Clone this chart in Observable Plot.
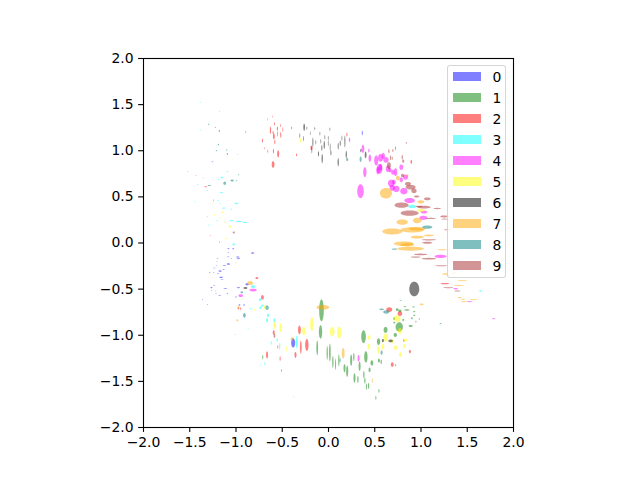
<!DOCTYPE html>
<html><head><meta charset="utf-8">
<script src="https://cdn.jsdelivr.net/npm/d3@7"></script>
<script src="https://cdn.jsdelivr.net/npm/@observablehq/plot@0.6"></script>
<style>
html,body{margin:0;padding:0;background:#fff}
#wrap{position:relative;width:640px;height:480px;font-family:"DejaVu Sans",sans-serif}
#legend{position:absolute;left:446.5px;top:65px;width:59.5px;height:213px;box-sizing:border-box;background:rgba(255,255,255,.8);border:1px solid rgba(204,204,204,.8);border-radius:3px}
#legend .sw{position:absolute;left:5.5px;width:27.8px;height:9.8px}
#legend .lb{position:absolute;left:45px;font-size:13.9px;line-height:16px;color:#000}
svg text{font-family:"DejaVu Sans",sans-serif}
</style></head><body><div id="wrap"></div>
<script>
const labels = ["0","1","2","3","4","5","6","7","8","9"];
const colors = ["blue","green","red","cyan","magenta","yellow","black","orange","teal","brown"];
const tickValues = [-2,-1.5,-1,-0.5,0,0.5,1,1.5,2];
// each row: centre x, centre y, width, height (data units)
const class0 = [[-.82,-.109,.036,.015],[-.981,-.152,.036,.012],[-.974,-.17,.036,.01],[-1.03,-.062,.022,.01],[-1.082,-.062,.022,.01],[-1.082,-.105,.014,.007],[-1.086,-.149,.014,.01],[-1.05,-.17,.014,.007],[-1.2,-.17,.014,.007],[-1.205,-.203,.011,.007],[-1.125,-.246,.036,.008],[-1.082,-.228,.036,.016],[-1.212,-.246,.011,.007],[-1.234,-.271,.022,.007],[-1.133,-.289,.022,.007],[-1.172,-.304,.036,.015],[-1.194,-.333,.022,.007],[-1.284,-.322,.018,.007],[-1.241,-.322,.014,.007],[-1.161,-.372,.036,.015],[-1.151,-.398,.03,.007],[-1.237,-.463,.022,.007],[-1.266,-.484,.022,.012],[-1.115,-.495,.043,.007],[-1.219,-.52,.011,.007],[-1.262,-.513,.011,.007],[-1.093,-.549,.014,.01],[-1.216,-.546,.011,.007],[-1.176,-.567,.03,.007],[-1.36,-.614,.011,.007],[-1.306,-.665,.011,.007],[-.88,-.448,.036,.022],[-.974,-.484,.036,.011],[-1.0,-.585,.014,.014],[-.382,-1.083,.043,.1],[-.963,-.672,.022,.014],[-.913,-.672,.018,.014],[.365,1.193,.011,.05],[-1.255,.88,.018,.008]];
const class1 = [[.848,-.726,.058,.015],[.826,-.69,.03,.011],[.92,-.693,.03,.011],[.743,-.722,.03,.03],[.772,-.737,.036,.03],[.711,-.82,.022,.03],[.711,-.863,.022,.018],[.808,-.834,.022,.022],[.927,-.744,.022,.014],[.927,-.784,.022,.014],[.902,-.816,.018,.022],[.981,-.823,.011,.018],[.945,-.852,.011,.022],[.888,-.899,.043,.022],[1.212,-.874,.022,.011],[.765,-.91,.079,.101],[.617,-.942,.043,.065],[.722,-.997,.036,.043],[.379,-1.015,.05,.137],[.541,-1.069,.036,.072],[.404,-1.235,.036,.123],[.274,-1.235,.014,.087],[.245,-1.271,.022,.123],[.469,-1.3,.03,.058],[.545,-1.274,.022,.043],[.57,-1.289,.014,.05],[.336,-1.336,.022,.101],[.173,-1.357,.022,.087],[.202,-1.39,.022,.123],[.444,-1.375,.022,.05],[.382,-1.426,.014,.079],[.281,-1.462,.022,.101],[.318,-1.48,.014,.079],[.393,-1.491,.014,.065],[.433,-1.549,.014,.065],[.411,-1.556,.011,.072],[.545,-1.603,.011,.043],[.512,-1.678,.011,.043],[-.076,-.73,.05,.238],[-.086,-.964,.036,.144],[-.122,-1.137,.018,.159],[-.711,-1.238,.011,.05],[-.014,-1.191,.014,.152],[.015,-1.188,.018,.195],[.047,-1.289,.014,.13],[.076,-1.314,.011,.123],[.112,-1.271,.014,.13]];
const class2 = [[.895,.88,.018,.043],[.657,-.722,.065,.05],[.772,-.766,.05,.05],[.815,-1.058,.014,.03],[.88,-1.177,.022,.036],[.689,-1.318,.03,.05],[1.259,-.441,.094,.015],[-.714,-.589,.03,.05],[-.949,-.711,.011,.03],[-.314,-.942,.03,.094],[-.592,-.971,.022,.05],[-.299,-1.13,.018,.144],[-.234,-1.105,.036,.13],[-.548,-1.126,.011,.036],[-.357,-1.213,.022,.065],[-.664,-1.213,.022,.079],[-.523,-1.253,.011,.05],[-.775,-.38,.03,.022],[-.599,.851,.03,.072],[-.544,.966,.022,.079],[-.595,.995,.012,.05],[-.656,.995,.008,.036],[-.714,1.11,.012,.043],[-.58,1.096,.012,.05],[-.516,1.172,.012,.065],[-.552,1.183,.009,.058],[-.591,1.157,.02,.065],[-.627,1.222,.014,.079],[-.584,1.291,.01,.036],[-.519,1.273,.008,.036],[-.494,1.229,.008,.05],[-.552,1.24,.014,.043],[-.656,1.341,.005,.03],[-.602,1.37,.005,.03],[-.689,1.027,.008,.022],[-.894,1.204,.008,.022],[-.346,.955,.012,.03],[-.184,1.031,.022,.05],[.199,1.175,.012,.043],[-.599,1.197,.012,.036],[-1.327,.609,.03,.011],[-1.18,1.428,.008,.008],[-1.432,.731,.01,.008],[-1.277,.082,.01,.008],[-1.244,.464,.01,.014],[-.981,.962,.008,.008],[-1.176,.01,.008,.018],[-.974,-.711,.018,.018]];
const class3 = [[.906,.396,.09,.036],[1.645,-.52,.03,.018],[-.739,-.614,.03,.03],[-.714,-.679,.03,.022],[-.736,-.701,.022,.03],[-.844,-.711,.014,.014],[-.653,-.784,.022,.036],[-.664,-.838,.022,.05],[-.584,-.838,.022,.043],[-.343,-1.072,.022,.137],[-.62,-1.083,.011,.043],[-.555,-1.051,.014,.036],[-.527,-1.119,.011,.079],[-.689,-1.307,.011,.03],[-.732,-1.332,.008,.014],[-.375,-1.668,.008,.014],[-1.006,-.993,.011,.011],[-.869,-.928,.008,.014],[-1.024,-.015,.03,.022],[-.815,-.473,.05,.03],[-1.093,.775,.014,.014],[-1.151,.71,.03,.018],[-1.187,.688,.014,.011],[-1.313,.569,.014,.011],[-1.158,.547,.03,.014],[-1.194,.461,.014,.014],[-1.172,.428,.011,.011],[-.995,.428,.043,.018],[-1.133,.378,.03,.014],[-1.053,.367,.022,.011],[-1.31,.284,.014,.011],[-1.205,.241,.014,.011],[-1.046,.241,.05,.011],[-.97,.234,.072,.014],[-.905,.223,.05,.014],[-1.295,.194,.014,.011],[-1.353,.706,.014,.011],[-1.414,.634,.014,.011],[-1.443,.446,.011,.011],[-1.385,1.525,.008,.014],[-1.382,1.226,.008,.014]];
const class4 = [[.346,.562,.07,.152],[.393,.768,.036,.108],[.447,.919,.028,.079],[.516,.894,.045,.108],[.563,.923,.055,.085],[.621,.901,.058,.062],[.552,.804,.06,.108],[.642,.804,.045,.072],[.696,.768,.038,.055],[.725,.768,.036,.087],[.787,.822,.042,.06],[.678,.648,.072,.078],[.689,.598,.058,.062],[.732,.587,.072,.07],[.815,.562,.08,.07],[.787,.685,.036,.055],[.833,.714,.056,.055],[.877,.461,.115,.055],[1.025,.273,.085,.045],[1.212,-.145,.13,.036],[1.032,.335,.072,.03],[.372,1.02,.03,.087],[.437,1.002,.015,.043],[.227,1.118,.015,.05],[1.375,-.495,.05,.015],[1.526,-.636,.058,.011],[1.786,-.82,.036,.011],[.325,-1.249,.022,.072],[-.815,-.51,.079,.03],[-.949,-.571,.05,.03],[.592,.945,.036,.065],[.534,.785,.036,.08],[.563,.82,.036,.072],[.707,.66,.04,.05],[.666,.79,.03,.05]];
const class5 = [[1.0,.353,.087,.03],[.743,-.82,.072,.072],[.772,-.953,.043,.065],[.44,-1.025,.03,.05],[.617,-1.025,.05,.087],[.689,-1.065,.036,.043],[.833,-1.054,.036,.036],[.823,-1.119,.03,.043],[.437,-1.123,.03,.065],[.588,-1.123,.03,.065],[.725,-1.134,.036,.05],[.541,-1.159,.03,.079],[.779,-1.209,.03,.05],[-.923,-.607,.014,.014],[-.689,-.693,.022,.043],[-.797,-.726,.014,.022],[-.581,-.892,.03,.079],[-.516,-.917,.03,.094],[-.267,-.953,.036,.094],[-.18,-.881,.036,.152],[.04,-.96,.05,.101],[.116,-.971,.043,.13],[-.451,-1.148,.011,.065],[-1.003,-.217,.014,.018],[-.303,1.11,.014,.05],[-1.143,.331,.03,.018],[-1.23,.306,.018,.014],[-1.172,.273,.022,.011],[-1.118,.226,.022,.011],[-1.064,.179,.03,.022],[-1.104,.05,.022,.014],[-1.248,.436,.014,.014],[-1.035,.901,.011,.011]];
const class6 = [[.927,-.499,.108,.159],[.588,-1.058,.022,.036],[.671,-1.061,.05,.03],[-.509,-1.383,.008,.022],[-.898,-.488,.043,.022],[-.397,1.247,.008,.03],[-.263,1.255,.018,.079],[-.234,1.244,.008,.036],[-.148,1.24,.008,.036],[.015,1.233,.008,.036],[-.31,1.164,.008,.05],[-.27,1.132,.008,.058],[-.093,1.186,.008,.043],[-.198,1.19,.006,.043],[-.169,1.092,.011,.101],[-.137,1.092,.008,.05],[-.083,1.103,.008,.05],[-.039,1.146,.008,.05],[-.003,1.136,.008,.05],[-.046,1.063,.014,.087],[-.003,1.081,.008,.058],[.018,1.038,.008,.087],[.026,.977,.011,.058],[-.072,1.031,.011,.065],[-.18,1.009,.008,.079],[-.108,.966,.012,.058],[-.068,.915,.014,.101],[.105,1.049,.011,.072],[.127,1.081,.011,.058],[.145,1.136,.008,.058],[.177,1.1,.011,.13],[.105,.876,.014,.087],[.192,.959,.014,.079],[.35,1.002,.014,.036],[.401,.955,.02,.072]];
const class7 = [[.621,.54,.13,.115],[.75,.703,.043,.05],[.852,.731,.022,.03],[1.0,.446,.072,.036],[.689,.125,.216,.065],[.797,.226,.123,.058],[.96,.244,.094,.058],[.906,.143,.253,.058],[.96,.154,.18,.036],[.815,-.008,.216,.05],[.888,-.062,.289,.043],[.852,-.019,.144,.036],[.96,.064,.144,.03],[1.23,-.073,.108,.011],[1.086,.082,.108,.018],[1.266,-.336,.079,.015],[1.357,-.325,.072,.011],[1.447,-.408,.101,.011],[1.411,-.462,.108,.011],[1.418,-.592,.043,.014],[1.454,-.61,.043,.011],[1.57,-.614,.087,.011],[1.465,-.636,.065,.011],[1.007,-.665,.043,.018],[.473,-1.491,.011,.05],[.159,-1.195,.03,.115],[-.061,-.697,.137,.05],[-.393,-1.04,.03,.036],[-.847,-.434,.065,.043],[-.974,-.697,.03,.022],[-.985,-.838,.022,.022]];
const class8 = [[.202,.905,.022,.036],[1.068,.172,.108,.036],[.714,-.066,.058,.015],[.779,-.625,.022,.008],[.574,-.719,.05,.018],[.624,-.748,.065,.036],[.574,-1.188,.022,.05],[.725,-1.325,.014,.022],[-.938,-.535,.03,.022],[-.664,-.701,.036,.05],[-.909,-.784,.03,.05],[.126,-1.271,.011,.043],[-1.18,1.215,.014,.022],[-1.19,1.067,.014,.018],[-1.1,1.009,.014,.014],[-1.122,.648,.03,.036],[-1.042,.677,.036,.022],[-.995,.674,.014,.011],[-.97,.739,.014,.011],[-1.288,.623,.036,.011],[-1.295,1.287,.014,.014],[-1.223,1.255,.014,.011],[-1.212,1.002,.014,.014],[-1.093,.966,.014,.022],[.347,.908,.022,.058]];
const class9 = [[.953,.504,.058,.022],[1.068,.479,.072,.03],[.877,.324,.195,.058],[.79,.41,.152,.058],[.859,.641,.065,.043],[.888,.605,.108,.05],[.924,.565,.058,.05],[.801,.732,.036,.036],[.653,.84,.043,.072],[.653,.995,.014,.043],[.696,1.002,.014,.03],[.725,1.027,.011,.043],[.797,.93,.014,.05],[.808,.887,.022,.036],[.671,.923,.014,.05],[.689,.919,.011,.036],[.841,1.085,.011,.022],[.978,.396,.072,.018],[1.032,.389,.144,.03],[1.176,.374,.079,.014],[1.104,.266,.108,.014],[1.248,.288,.079,.022],[1.256,.259,.072,.011],[1.284,.143,.072,.011],[1.086,.035,.159,.014],[1.068,.003,.108,.022],[.996,-.124,.144,.018],[1.086,-.17,.159,.018],[.942,-.152,.108,.014],[1.219,-.246,.137,.011],[1.295,-.484,.108,.011],[1.393,-.52,.065,.011],[-.584,-1.007,.018,.043],[-1.522,.775,.011,.008],[-1.024,.114,.022,.022]];
const classes = [class0,class1,class2,class3,class4,class5,class6,class7,class8,class9];

const outline = d3.range(0,40);
function points(rows){
  return rows.flatMap(([x,y,w,h],id)=>outline.map(k=>{
    const a=k/40*2*Math.PI;
    return {id,px:x+w/2*Math.cos(a),py:y+h/2*Math.sin(a)};
  }));
}
const fmt = d3.format(".1f");
const chart = Plot.plot({
  width:640,height:480,
  marginLeft:143,marginRight:127,marginTop:58,marginBottom:53,
  style:{background:"transparent",fontSize:"13.9px",fontFamily:"DejaVu Sans",color:"#000"},
  x:{domain:[-2,2]},y:{domain:[-2,2]},
  marks:[
    ...classes.map((rows,i)=>Plot.line(points(rows),{x:"px",y:"py",z:"id",curve:"linear-closed",fill:colors[i],fillOpacity:.5,stroke:"none"})),
    Plot.frame({stroke:"#000",strokeWidth:1.1}),
    Plot.axisX({ticks:tickValues,tickFormat:fmt,tickSize:4.9,tickPadding:5,label:null,strokeWidth:1.1,stroke:"#000",fill:"#000"}),
    Plot.axisY({ticks:tickValues,tickFormat:fmt,tickSize:4.9,tickPadding:5,label:null,strokeWidth:1.1,stroke:"#000",fill:"#000"})
  ]
});
const wrap=document.getElementById("wrap");
wrap.appendChild(chart);
const lg=document.createElement("div");lg.id="legend";
labels.forEach((t,i)=>{
  const s=document.createElement("div");s.className="sw";s.style.top=(5.5+21*i)+"px";s.style.background=colors[i];s.style.opacity=.5;
  const l=document.createElement("div");l.className="lb";l.style.top=(2.5+21*i)+"px";l.textContent=t;
  lg.append(s,l);
});
wrap.appendChild(lg);
</script></body></html>
